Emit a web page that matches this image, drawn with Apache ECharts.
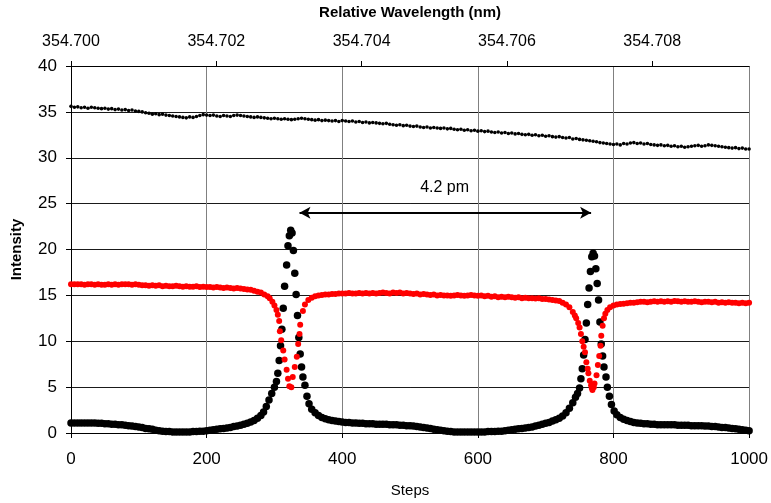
<!DOCTYPE html>
<html>
<head>
<meta charset="utf-8">
<title>Intensity vs Steps</title>
<script src="https://cdn.jsdelivr.net/npm/echarts@6/dist/echarts.min.js"></script>
<style>
  html, body { margin: 0; padding: 0; background: #fff; }
  #chart { width: 771px; height: 503px; }
</style>
</head>
<body>
<div id="chart"></div>
<script>
// black dots: [step, intensity]
const blackDots = [
  [0,1.1],[5,1.1],[10,1.1],[15,1.1],[20,1.1],[25,1.1],[30,1.1],[35,1.1],[40,1.05],[45,1.05],
  [50,1.0],[55,1.0],[60,0.95],[65,0.95],[70,0.9],[75,0.9],[80,0.85],[85,0.8],[90,0.75],[95,0.7],
  [100,0.65],[105,0.6],[110,0.5],[115,0.45],[120,0.4],[125,0.3],[130,0.25],[135,0.2],[140,0.15],[145,0.15],
  [150,0.1],[155,0.1],[160,0.1],[165,0.1],[170,0.1],[175,0.1],[180,0.15],[185,0.15],[190,0.2],[195,0.2],
  [200,0.25],[205,0.3],[210,0.35],[215,0.4],[220,0.45],[225,0.5],[230,0.55],[235,0.6],[240,0.7],[245,0.75],
  [250,0.85],[255,0.95],[260,1.05],[265,1.2],[270,1.35],[275,1.6],[280,1.9],[284,2.3],[288,2.9],[292,3.6],
  [296,4.3],[300,5.0],[303,5.6],[305,6.5],[307,7.9],[309,9.5],[311,11.3],[313,13.6],[315,16.0],[318,18.3],
  [320,20.4],[322,21.5],[324,22.1],[326,21.8],[328,19.9],[330,17.4],[332,15.1],[334,12.8],[336,10.4],[338,8.6],
  [340,7.2],[342,6.1],[345,5.2],[348,4.0],[351,3.2],[355,2.6],[360,2.2],[365,1.9],[370,1.7],[375,1.55],
  [380,1.45],[385,1.35],[390,1.3],[395,1.25],[400,1.2],[405,1.15],[410,1.15],[415,1.1],[420,1.1],[425,1.05],
  [430,1.05],[435,1.0],[440,1.0],[445,1.0],[450,0.95],[455,0.95],[460,0.95],[465,0.95],[470,0.9],[475,0.9],
  [480,0.9],[485,0.85],[490,0.85],[495,0.8],[500,0.8],[505,0.75],[510,0.7],[515,0.65],[520,0.6],[525,0.55],
  [530,0.5],[535,0.4],[540,0.35],[545,0.3],[550,0.25],[555,0.2],[560,0.15],[565,0.1],[570,0.1],[575,0.1],
  [580,0.1],[585,0.1],[590,0.1],[595,0.1],[600,0.1],[605,0.1],[610,0.1],[615,0.15],[620,0.15],[625,0.15],
  [630,0.2],[635,0.2],[640,0.25],[645,0.3],[650,0.35],[655,0.4],[660,0.45],[665,0.5],[670,0.55],[675,0.6],
  [680,0.65],[685,0.75],[690,0.85],[695,0.95],[700,1.05],[705,1.15],[710,1.3],[715,1.45],[720,1.6],[725,1.85],
  [730,2.2],[735,2.7],[740,3.3],[744,3.9],[747,4.3],[750,4.9],[752,5.9],[754,7.0],[756,8.5],[758,10.2],
  [760,12.0],[762,14.0],[764,15.8],[766,17.6],[768,19.2],[770,19.6],[772,19.3],[774,17.9],[776,16.3],[778,14.5],
  [780,12.1],[782,9.7],[784,8.4],[786,7.2],[789,6.1],[791,5.0],[794,4.0],[797,3.1],[801,2.4],[805,2.0],
  [810,1.7],[815,1.5],[820,1.35],[825,1.25],[830,1.15],[835,1.1],[840,1.05],[845,1.0],[850,1.0],[855,0.95],
  [860,0.95],[865,0.9],[870,0.9],[875,0.9],[880,0.9],[885,0.9],[890,0.9],[895,0.85],[900,0.85],[905,0.85],
  [910,0.85],[915,0.8],[920,0.8],[925,0.8],[930,0.8],[935,0.75],[940,0.75],[945,0.7],[950,0.7],[955,0.65],
  [960,0.6],[965,0.6],[970,0.55],[975,0.5],[980,0.45],[985,0.4],[990,0.35],[995,0.3],[1000,0.25]
]

// red dots: [step, intensity]
const redDots = [
  [0,16.2],[5,16.2],[10,16.2],[15,16.2],[20,16.15],[25,16.2],[30,16.2],[35,16.15],[40,16.2],[45,16.15],
  [50,16.15],[55,16.2],[60,16.15],[65,16.2],[70,16.15],[75,16.2],[80,16.2],[85,16.2],[90,16.15],[95,16.2],
  [100,16.15],[105,16.1],[110,16.1],[115,16.05],[120,16.1],[125,16.05],[130,16.1],[135,16.0],[140,16.05],[145,16.0],
  [150,16.0],[155,16.05],[160,16.0],[165,15.95],[170,16.0],[175,15.95],[180,15.95],[185,16.0],[190,15.9],[195,15.95],
  [200,15.9],[205,15.9],[210,15.85],[215,15.9],[220,15.85],[225,15.8],[230,15.85],[235,15.8],[240,15.75],[245,15.8],
  [250,15.75],[255,15.7],[260,15.65],[265,15.6],[270,15.5],[275,15.4],[280,15.3],[285,15.1],[290,14.9],[293,14.7],
  [297,14.3],[300,13.9],[303,13.4],[305,12.9],[307,12.2],[308,11.1],[310,10.1],[313,9.0],[315,8.0],[318,6.9],
  [320,5.9],[322,5.1],[325,5.0],[327,6.1],[330,7.2],[333,8.3],[335,9.7],[337,10.8],[338,11.8],[342,13.3],
  [345,14.0],[350,14.5],[355,14.75],[360,14.9],[365,15.0],[370,15.05],[375,15.1],[380,15.1],[385,15.15],[390,15.15],
  [395,15.2],[400,15.2],[405,15.2],[410,15.25],[415,15.2],[420,15.2],[425,15.25],[430,15.2],[435,15.25],[440,15.2],
  [445,15.25],[450,15.2],[455,15.25],[460,15.3],[465,15.25],[470,15.2],[475,15.3],[480,15.25],[485,15.3],[490,15.2],
  [495,15.25],[500,15.2],[505,15.15],[510,15.2],[515,15.1],[520,15.15],[525,15.1],[530,15.05],[535,15.1],[540,15.0],
  [545,15.05],[550,15.0],[555,15.0],[560,14.95],[565,15.0],[570,15.05],[575,15.0],[580,14.95],[585,15.0],[590,15.05],
  [595,15.0],[600,14.95],[605,15.0],[610,14.9],[615,14.95],[620,14.85],[625,14.9],[630,14.8],[635,14.85],[640,14.8],
  [645,14.85],[650,14.8],[655,14.75],[660,14.8],[665,14.7],[670,14.75],[675,14.7],[680,14.7],[685,14.65],[690,14.7],
  [695,14.6],[700,14.6],[705,14.55],[710,14.5],[715,14.45],[720,14.4],[725,14.2],[730,14.0],[735,13.7],[740,13.2],
  [743,12.8],[745,12.5],[748,12.0],[750,11.5],[752,10.8],[754,10.0],[756,9.4],[758,8.8],[760,7.7],[762,7.0],
  [763,6.5],[765,5.7],[767,5.2],[768,4.9],[769,4.7],[771,5.0],[772,5.4],[775,6.3],[777,7.4],[779,8.4],
  [781,9.5],[782,10.6],[784,11.7],[786,12.5],[788,13.0],[791,13.4],[795,13.7],[800,13.9],[805,14.0],[810,14.05],
  [815,14.1],[820,14.15],[825,14.2],[830,14.2],[835,14.25],[840,14.3],[845,14.3],[850,14.25],[855,14.3],[860,14.35],
  [865,14.3],[870,14.35],[875,14.3],[880,14.35],[885,14.3],[890,14.4],[895,14.35],[900,14.3],[905,14.35],[910,14.3],
  [915,14.3],[920,14.35],[925,14.3],[930,14.25],[935,14.3],[940,14.3],[945,14.25],[950,14.3],[955,14.2],[960,14.25],
  [965,14.2],[970,14.25],[975,14.2],[980,14.2],[985,14.15],[990,14.2],[995,14.15],[1000,14.2]
]

// small black dots along the top, one reading every 5 steps from step 0
const topIntensity = [
  35.6,35.5,35.55,35.45,35.5,35.4,35.5,35.45,35.4,35.35,
  35.4,35.3,35.35,35.25,35.3,35.2,35.25,35.15,35.2,35.1,
  35.05,35.0,34.9,34.85,34.75,34.8,34.7,34.75,34.65,34.6,
  34.55,34.5,34.45,34.4,34.35,34.45,34.4,34.5,34.6,34.7,
  34.65,34.6,34.65,34.55,34.5,34.6,34.55,34.5,34.6,34.65,
  34.6,34.55,34.5,34.45,34.4,34.45,34.4,34.35,34.3,34.25,
  34.3,34.25,34.2,34.25,34.2,34.15,34.2,34.25,34.3,34.25,
  34.2,34.15,34.1,34.15,34.05,34.1,34.05,34.0,34.05,33.95,
  34.05,34.0,33.95,34.0,33.9,33.95,33.85,33.9,33.8,33.85,
  33.8,33.75,33.7,33.75,33.65,33.6,33.55,33.6,33.5,33.55,
  33.45,33.4,33.45,33.35,33.3,33.35,33.25,33.3,33.25,33.2,
  33.25,33.15,33.2,33.1,33.05,33.1,33.0,33.05,32.95,33.0,
  32.9,32.95,32.85,32.9,32.8,32.75,32.8,32.7,32.75,32.65,
  32.7,32.6,32.65,32.55,32.5,32.55,32.45,32.5,32.4,32.45,
  32.35,32.4,32.3,32.25,32.3,32.2,32.15,32.2,32.05,32.1,
  32.0,31.95,31.9,31.85,31.8,31.75,31.65,31.6,31.55,31.5,
  31.45,31.5,31.4,31.55,31.5,31.6,31.65,31.55,31.6,31.5,
  31.55,31.45,31.4,31.35,31.4,31.3,31.35,31.25,31.3,31.2,
  31.25,31.15,31.2,31.25,31.3,31.35,31.25,31.3,31.4,31.35,
  31.3,31.25,31.2,31.15,31.1,31.05,31.1,31.0,31.05,30.95,
  30.95
]
const topSteps = topIntensity.map((_, i) => i * 5)

// separation marker between the two peaks
const arrowFrom = [337, 24]
const arrowTo = [767, 24]
const arrowLabel = { text: '4.2 pm', coord: [551, 26.8] }

const FONT = '"Liberation Sans", Arial, sans-serif'

const chart = echarts.init(document.getElementById('chart'), null, { renderer: 'canvas' })

const option = {
  animation: false,
  backgroundColor: '#fff',
  textStyle: { fontFamily: FONT, color: '#000' },
  grid: { left: 71, right: 21, top: 64, bottom: 66, containLabel: false },
  xAxis: [
    {
      type: 'value',
      position: 'bottom',
      min: 0,
      max: 1000,
      interval: 200,
      name: 'Steps',
      nameLocation: 'middle',
      nameGap: 50,
      nameTextStyle: { fontFamily: FONT, fontSize: 15, color: '#000' },
      axisLine: { show: true, lineStyle: { color: '#000', width: 1 } },
      axisTick: { show: true, length: 5, lineStyle: { color: '#000' } },
      axisLabel: { fontFamily: FONT, fontSize: 17, color: '#000', margin: 18, formatter: (v) => String(v) },
      splitLine: { show: true, lineStyle: { color: '#808080', width: 1 } }
    },
    {
      type: 'value',
      position: 'top',
      min: 354.7,
      max: 354.709333,
      interval: 0.002,
      name: 'Relative Wavelength (nm)',
      nameLocation: 'middle',
      nameGap: 46,
      nameTextStyle: { fontFamily: FONT, fontSize: 15, fontWeight: 'bold', color: '#000' },
      axisLine: { show: true, lineStyle: { color: '#000', width: 1 } },
      axisTick: { show: true, length: 5, lineStyle: { color: '#000' } },
      axisLabel: {
        fontFamily: FONT,
        fontSize: 16,
        color: '#000',
        margin: 16,
        showMaxLabel: false,
        formatter: (v) => v.toFixed(3)
      },
      splitLine: { show: false }
    }
  ],
  yAxis: {
    type: 'value',
    min: 0,
    max: 40,
    interval: 5,
    name: 'Intensity',
    nameLocation: 'middle',
    nameGap: 47,
    nameTextStyle: { fontFamily: FONT, fontSize: 15, fontWeight: 'bold', color: '#000' },
    axisLine: { show: true, lineStyle: { color: '#000', width: 1 } },
    axisTick: { show: true, length: 5, lineStyle: { color: '#000' } },
    axisLabel: { fontFamily: FONT, fontSize: 17, color: '#000', margin: 14 },
    splitLine: { show: true, lineStyle: { color: '#1a1a1a', width: 1 } }
  },
  series: [
    {
      name: 'top',
      type: 'scatter',
      xAxisIndex: 0,
      symbol: 'circle',
      symbolSize: 3.6,
      itemStyle: { color: '#000', opacity: 1 },
      data: topSteps.map((s, i) => [s, topIntensity[i]]),
      silent: true
    },
    {
      name: 'black',
      type: 'scatter',
      xAxisIndex: 0,
      symbol: 'circle',
      symbolSize: 7.5,
      itemStyle: { color: '#000', opacity: 1 },
      data: blackDots,
      silent: true,
      markLine: {
        silent: true,
        symbol: ['arrow', 'arrow'],
        symbolSize: [9, 11],
        lineStyle: { color: '#000', width: 2, type: 'solid' },
        label: { show: false },
        data: [[{ coord: arrowFrom }, { coord: arrowTo }]]
      },
      markPoint: {
        silent: true,
        symbol: 'circle',
        symbolSize: 0,
        label: {
          show: true,
          formatter: arrowLabel.text,
          fontFamily: FONT,
          fontSize: 16,
          color: '#000'
        },
        data: [{ coord: arrowLabel.coord }]
      }
    },
    {
      name: 'red',
      type: 'scatter',
      xAxisIndex: 0,
      symbol: 'circle',
      symbolSize: 6,
      itemStyle: { color: '#ff0000', opacity: 1 },
      data: redDots,
      silent: true
    }
  ]
}

chart.setOption(option)

window.addEventListener('resize', () => {
  chart.resize()
})
</script>
</body>
</html>
